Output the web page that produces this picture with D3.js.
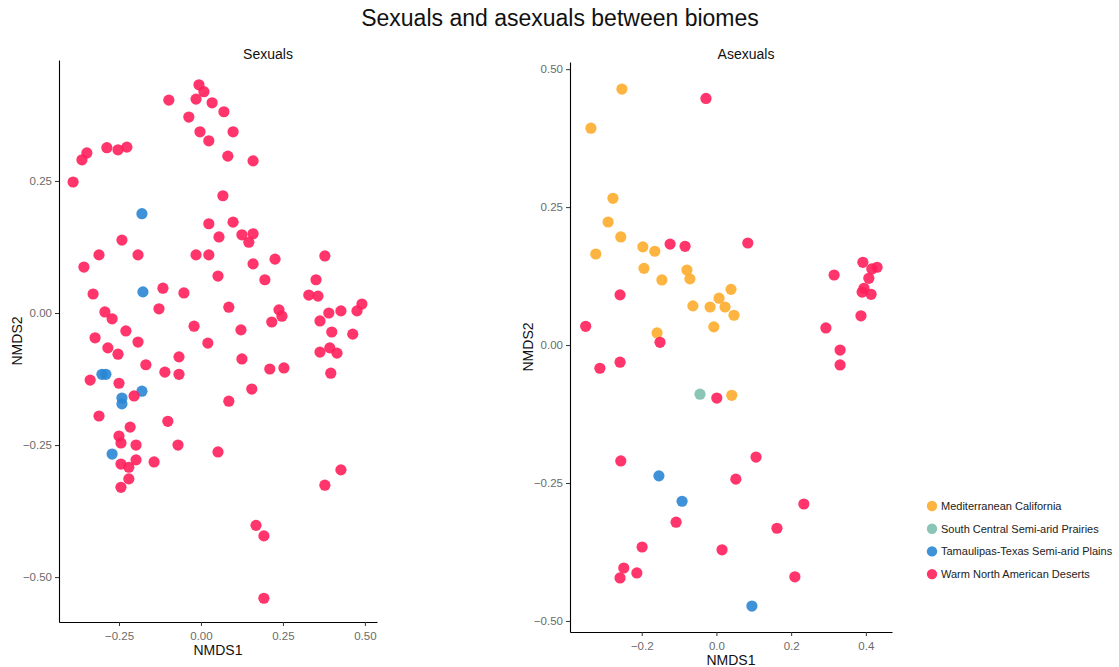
<!DOCTYPE html>
<html>
<head>
<meta charset="utf-8">
<script src="https://cdn.jsdelivr.net/npm/d3@7"></script>
<style>
  body { margin: 0; background: #fff; }
  text { font-family: "Liberation Sans", Arial, sans-serif; }
</style>
</head>
<body>
<div id="chart"></div>
<script>
// Biomes (legend order) and their colours
const biomes = ["Mediterranean California", "South Central Semi-arid Prairies",
  "Tamaulipas-Texas Semi-arid Plains", "Warm North American Deserts"];
const biomeColors = ["#FDAC2B", "#7DBFAE", "#2A86D4", "#FF1F5B"];

// Sexuals: [NMDS1, NMDS2]
const sexTamaulipas = [[-0.180, 0.188], [-0.177, 0.040], [-0.302, -0.116], [-0.290, -0.116],
  [-0.180, -0.148], [-0.241, -0.161], [-0.241, -0.172], [-0.271, -0.267]];
const sexWarm = [[-0.006, 0.432], [0.009, 0.419], [-0.098, 0.403], [-0.015, 0.405], [0.034, 0.398],
  [0.070, 0.381], [-0.037, 0.371], [-0.003, 0.343], [0.024, 0.326], [0.098, 0.343], [0.082, 0.297],
  [0.159, 0.288], [-0.348, 0.303], [-0.363, 0.290], [-0.287, 0.313], [-0.253, 0.309], [-0.226, 0.314],
  [-0.390, 0.248], [0.067, 0.222], [0.024, 0.169], [0.098, 0.172], [0.055, 0.144], [0.125, 0.148],
  [0.159, 0.150], [0.146, 0.134], [-0.241, 0.138], [-0.311, 0.110], [-0.192, 0.110], [-0.015, 0.110],
  [0.024, 0.110], [0.159, 0.093], [0.226, 0.102], [0.378, 0.108], [-0.357, 0.087], [0.052, 0.070],
  [0.195, 0.063], [0.351, 0.063], [-0.329, 0.036], [-0.116, 0.047], [-0.052, 0.038], [0.329, 0.034],
  [0.357, 0.032], [-0.128, 0.008], [0.085, 0.011], [0.238, 0.006], [0.247, -0.006], [0.216, -0.017],
  [0.390, 0.000], [0.427, 0.004], [0.491, 0.017], [0.476, 0.004], [0.363, -0.015], [-0.293, 0.002],
  [-0.271, -0.011], [-0.229, -0.034], [-0.021, -0.025], [0.399, -0.036], [0.463, -0.040], [0.122, -0.032],
  [-0.323, -0.047], [-0.192, -0.055], [0.021, -0.057], [-0.284, -0.066], [-0.253, -0.078], [-0.067, -0.083],
  [0.125, -0.087], [0.393, -0.066], [0.363, -0.074], [0.415, -0.076], [-0.168, -0.098], [-0.110, -0.112],
  [-0.067, -0.116], [0.210, -0.106], [0.253, -0.104], [0.396, -0.114], [-0.338, -0.127], [-0.250, -0.133],
  [-0.204, -0.157], [0.155, -0.144], [0.085, -0.167], [-0.311, -0.195], [-0.101, -0.205], [-0.216, -0.216],
  [-0.250, -0.233], [-0.244, -0.246], [-0.198, -0.250], [-0.070, -0.250], [0.052, -0.263], [-0.244, -0.286],
  [-0.220, -0.292], [-0.198, -0.278], [-0.143, -0.282], [-0.220, -0.314], [-0.244, -0.330], [0.427, -0.297],
  [0.378, -0.326], [0.168, -0.402], [0.192, -0.422], [0.192, -0.540]];

// Asexuals: [NMDS1, NMDS2]
const asexMediterranean = [[-0.253, 0.464], [-0.336, 0.393], [-0.277, 0.266], [-0.290, 0.223],
  [-0.256, 0.196], [-0.323, 0.165], [-0.197, 0.178], [-0.165, 0.170], [-0.194, 0.139], [-0.146, 0.118],
  [-0.079, 0.136], [-0.071, 0.120], [0.039, 0.101], [0.007, 0.085], [-0.063, 0.071], [-0.017, 0.069],
  [0.023, 0.069], [0.047, 0.054], [-0.007, 0.033], [-0.159, 0.022], [0.041, -0.091]];
const asexPrairies = [[-0.044, -0.089]];
const asexTamaulipas = [[-0.154, -0.237], [-0.092, -0.283], [0.095, -0.473]];
const asexWarm = [[-0.028, 0.447], [-0.124, 0.183], [-0.084, 0.179], [0.084, 0.185], [-0.258, 0.091],
  [-0.350, 0.034], [-0.151, 0.005], [-0.258, -0.031], [-0.312, -0.042], [0.001, -0.096], [0.392, 0.150],
  [0.430, 0.141], [0.416, 0.138], [0.408, 0.121], [0.315, 0.127], [0.395, 0.103], [0.390, 0.096],
  [0.414, 0.092], [0.387, 0.053], [0.293, 0.031], [0.331, -0.009], [0.331, -0.036], [-0.256, -0.210],
  [0.106, -0.203], [0.052, -0.243], [0.234, -0.288], [-0.108, -0.321], [0.162, -0.332], [-0.199, -0.366],
  [0.015, -0.371], [-0.248, -0.404], [-0.213, -0.413], [-0.258, -0.422], [0.210, -0.420]];

const sexXTicks = [-0.25, 0, 0.25, 0.5];
const sexYTicks = [-0.5, -0.25, 0, 0.25];
const asexXTicks = [-0.2, 0, 0.2, 0.4];
const asexYTicks = [-0.5, -0.25, 0, 0.25, 0.5];

const W = 1119, H = 667;
const svg = d3.select("#chart").append("svg").attr("width", W).attr("height", H);

svg.append("text").attr("x", 560).attr("y", 26).attr("text-anchor", "middle")
  .attr("font-size", 23).attr("fill", "#111").text("Sexuals and asexuals between biomes");

function panel(opt) {
  const x = d3.scaleLinear().domain(opt.xDomain).range([opt.left, opt.right]);
  const y = d3.scaleLinear().domain(opt.yDomain).range([opt.bottom, opt.top]);
  const g = svg.append("g");

  // points
  opt.groups.forEach(grp => {
    g.selectAll(null).data(grp.data).join("circle")
      .attr("cx", d => x(d[0])).attr("cy", d => y(d[1])).attr("r", 5.6)
      .attr("fill", biomeColors[grp.biome]).attr("fill-opacity", 0.9);
  });

  const ax = g.append("g").attr("transform", `translate(0,${opt.bottom})`)
    .call(d3.axisBottom(x).tickValues(opt.xTicks).tickSize(4).tickSizeOuter(0).tickFormat(opt.xFmt));
  const ay = g.append("g").attr("transform", `translate(${opt.left},0)`)
    .call(d3.axisLeft(y).tickValues(opt.yTicks).tickSize(4).tickSizeOuter(0).tickFormat(d3.format(".2f")));
  [ax, ay].forEach(a => {
    a.select(".domain").attr("stroke", "#000").attr("stroke-width", 1.1);
    a.selectAll(".tick line").attr("stroke", "#333");
    a.selectAll(".tick text").attr("fill", "#6b6b6b").attr("font-size", 11.5)
      .attr("font-family", "Liberation Sans, Arial, sans-serif");
  });
  ax.selectAll(".tick text").attr("dy", "0.95em");

  // facet title is centred over the whole sub-plot, not just the panel
  g.append("text").attr("x", opt.titleX).attr("y", 59)
    .attr("text-anchor", "middle").attr("font-size", 14).attr("fill", "#111").text(opt.title);
  g.append("text").attr("x", (opt.left + opt.right) / 2).attr("y", opt.bottom + 33)
    .attr("text-anchor", "middle").attr("font-size", 14).attr("fill", "#111").text("NMDS1");
  g.append("text").attr("transform", `translate(${opt.left - 37},${(opt.top + opt.bottom) / 2}) rotate(-90)`)
    .attr("text-anchor", "middle").attr("font-size", 14).attr("fill", "#111").text("NMDS2");
}

panel({
  title: "Sexuals", titleX: 268, left: 59, right: 377, top: 60, bottom: 622,
  xDomain: [-0.433, 0.537], yDomain: [-0.585, 0.479],
  xTicks: sexXTicks, yTicks: sexYTicks, xFmt: d3.format(".2f"),
  groups: [{ biome: 2, data: sexTamaulipas }, { biome: 3, data: sexWarm }]
});

panel({
  title: "Asexuals", titleX: 746, left: 570, right: 892, top: 62, bottom: 632,
  xDomain: [-0.392, 0.47], yDomain: [-0.52, 0.513],
  xTicks: asexXTicks, yTicks: asexYTicks, xFmt: d3.format(".1f"),
  groups: [{ biome: 0, data: asexMediterranean }, { biome: 1, data: asexPrairies },
    { biome: 2, data: asexTamaulipas }, { biome: 3, data: asexWarm }]
});

// legend
const leg = svg.append("g").attr("transform", "translate(932,506)");
biomes.forEach((b, i) => {
  leg.append("circle").attr("cx", 0).attr("cy", i * 22.7).attr("r", 5.2)
    .attr("fill", biomeColors[i]).attr("fill-opacity", 0.9);
  leg.append("text").attr("x", 9).attr("y", i * 22.7).attr("dy", "0.35em")
    .attr("font-size", 11).attr("fill", "#222").text(b);
});
</script>
</body>
</html>
